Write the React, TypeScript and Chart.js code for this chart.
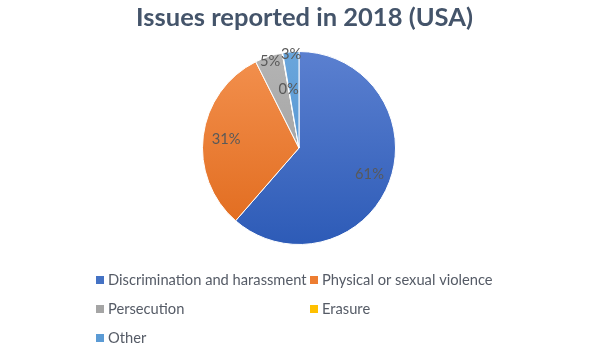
import React, { useEffect, useRef } from "react";
import { Chart, registerables } from "chart.js";

Chart.register(...registerables);

const chartTitle = "Issues reported in 2018 (USA)";
const categories = [
  "Discrimination and harassment",
  "Physical or sexual violence",
  "Persecution",
  "Erasure",
  "Other",
];
const values = [61.4, 31.2, 4.6, 0.1, 2.7];
const gradientTop = ["#5B80D0", "#F3914F", "#B4B4B4", "#FFC914", "#6AA6DC"];
const gradientBottom = ["#2D5BB7", "#E0691B", "#999999", "#F0B400", "#4A8CCB"];
const swatchColors = ["#4472C4", "#ED7D31", "#A5A5A5", "#FFC000", "#5B9BD5"];
const labelRadiusFactor = [0.78, 0.76, 0.95, 0.62, 0.97];

const FONT = "Lato, 'Open Sans', sans-serif";

const overlayPlugin = {
  id: "overlay",
  afterDraw(chart: any) {
    const ctx = chart.ctx as CanvasRenderingContext2D;
    const total = values.reduce((a, b) => a + b, 0);
    ctx.save();
    // Title
    ctx.fillStyle = "#44546A";
    ctx.font = `bold 25.5px ${FONT}`;
    ctx.textAlign = "center";
    ctx.textBaseline = "alphabetic";
    ctx.fillText(chartTitle, 304.5, 26);

    // Data labels
    const meta = chart.getDatasetMeta(0);
    ctx.font = `14.7px ${FONT}`;
    ctx.fillStyle = "#595959";
    ctx.textBaseline = "middle";
    meta.data.forEach((arc: any, i: number) => {
      const p = arc.getProps(["x", "y", "startAngle", "endAngle", "outerRadius"], true);
      const mid = (p.startAngle + p.endAngle) / 2;
      const r = p.outerRadius * labelRadiusFactor[i];
      const lx = p.x + Math.cos(mid) * r;
      const ly = p.y + Math.sin(mid) * r;
      const pct = Math.round((values[i] / total) * 100);
      ctx.fillText(pct + "%", lx, ly);
    });

    // Legend (two columns)
    const colX = [96, 310];
    const rowY = [280, 309, 338];
    ctx.textAlign = "left";
    ctx.font = `14.7px ${FONT}`;
    categories.forEach((name, i) => {
      const x = colX[i % 2];
      const y = rowY[Math.floor(i / 2)];
      ctx.fillStyle = swatchColors[i];
      ctx.fillRect(x, y - 4, 8, 8);
      ctx.fillStyle = "#555B66";
      ctx.fillText(name, x + 12, y);
    });
    ctx.restore();
  },
};

export default function App() {
  const canvasRef = useRef<HTMLCanvasElement | null>(null);

  useEffect(() => {
    if (!canvasRef.current) return;
    const chart = new Chart(canvasRef.current, {
      type: "pie",
      data: {
        labels: categories,
        datasets: [
          {
            data: values,
            backgroundColor: (c: any) => {
              const ch = c.chart;
              const area = ch.chartArea;
              const i = c.dataIndex;
              if (!area || i === undefined) return swatchColors[i ?? 0];
              const g = ch.ctx.createLinearGradient(0, area.top, 0, area.bottom);
              g.addColorStop(0, gradientTop[i]);
              g.addColorStop(1, gradientBottom[i]);
              return g;
            },
            borderColor: "#FFFFFF",
            borderWidth: 1,
          },
        ],
      },
      options: {
        animation: false,
        responsive: true,
        maintainAspectRatio: false,
        layout: { padding: { top: 51, bottom: 109, left: 0, right: 16 } },
        plugins: {
          legend: { display: false },
          title: { display: false },
          tooltip: { enabled: false },
        },
      },
      plugins: [overlayPlugin],
    });
    return () => chart.destroy();
  }, []);

  return (
    <div
      style={{
        position: "absolute",
        left: 0,
        top: 0,
        width: 614,
        height: 354,
        background: "#FFFFFF",
      }}
    >
      <canvas ref={canvasRef} />
    </div>
  );
}
